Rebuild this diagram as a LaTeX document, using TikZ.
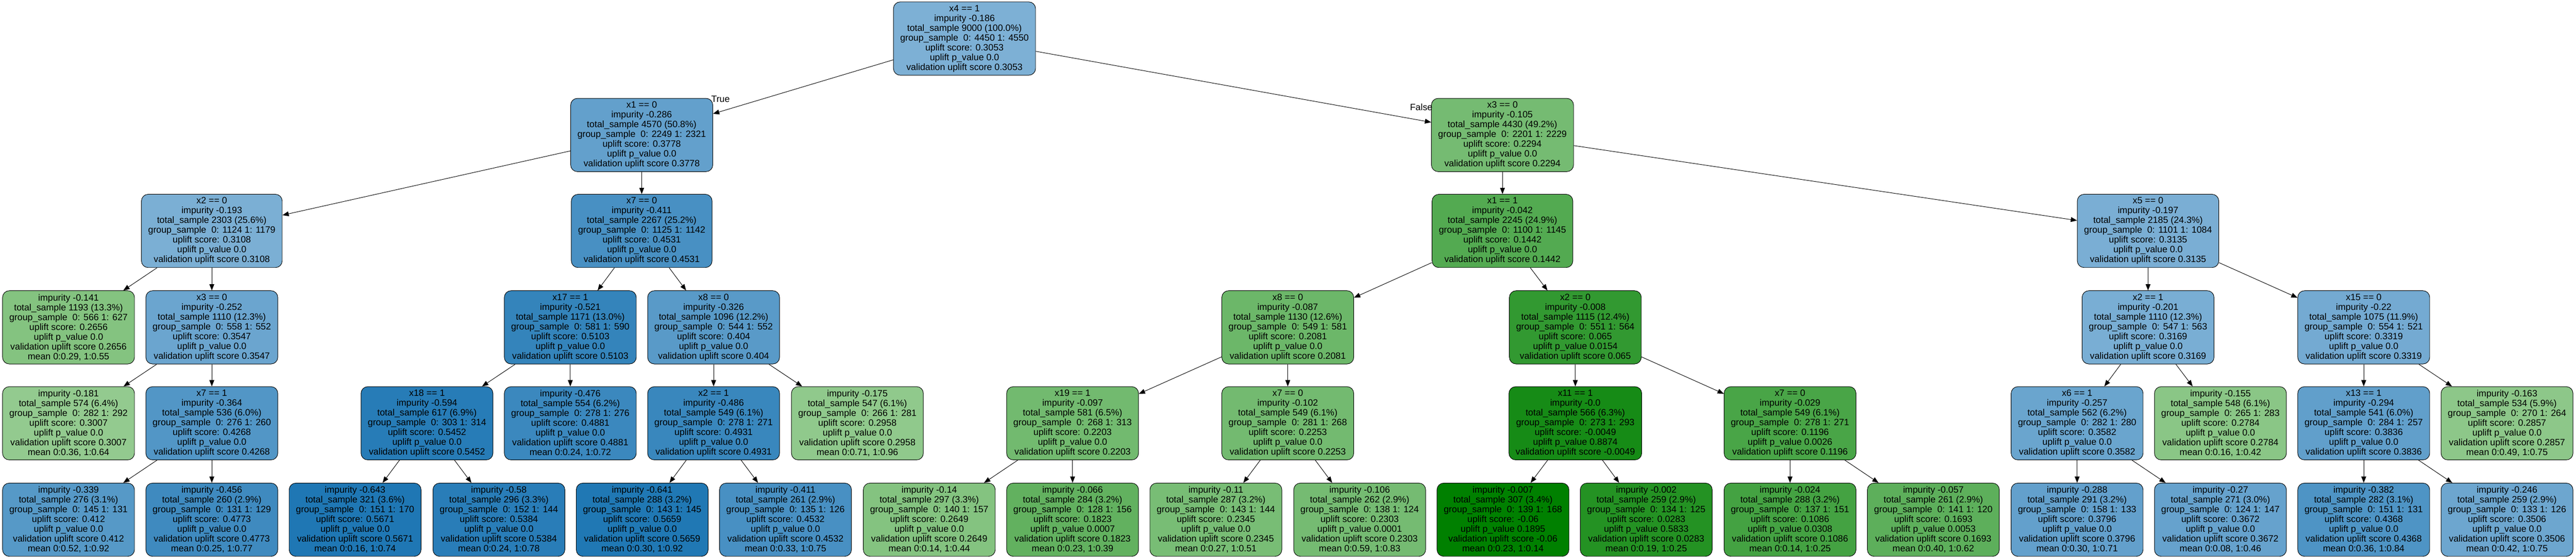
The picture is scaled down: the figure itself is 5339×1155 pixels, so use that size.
\documentclass[tikz,border=0pt]{standalone}
\usepackage{fontspec}
\setmainfont{Liberation Sans}
\usetikzlibrary{arrows.meta}
\definecolor{bhi}{RGB}{31,119,180}
\definecolor{blo}{RGB}{125,176,213}
\definecolor{ghi}{RGB}{0,128,0}
\definecolor{glo}{RGB}{148,203,144}
\begin{document}
\begin{tikzpicture}[x=0.5pt,y=-0.5pt,
  box/.style={draw=black,line width=0.5pt,rounded corners=7pt,align=center,minimum height=76pt,inner xsep=7pt,inner ysep=2pt,font=\fontsize{9.5pt}{10.15pt}\selectfont},
  arr/.style={-{Triangle[length=6.5pt,width=5pt]},line width=0.5pt},
  lbl/.style={inner sep=0pt,font=\fontsize{9.5pt}{10.15pt}\selectfont}]
\useasboundingbox (0,0) rectangle (5339,1155);
\node[box,fill=blo] (N0) at (1999,80) {x4 == 1\\impurity -0.186\\total\_sample 9000 (100.0\%)\\group\_sample~~0: 4450 1: 4550\\uplift score: 0.3053\\uplift p\_value 0.0\\validation uplift score 0.3053};
\node[box,fill=bhi!28!blo] (N1) at (1330,280) {x1 == 0\\impurity -0.286\\total\_sample 4570 (50.8\%)\\group\_sample~~0: 2249 1: 2321\\uplift score: 0.3778\\uplift p\_value 0.0\\validation uplift score 0.3778};
\node[box,fill=ghi!21!glo] (N2) at (3114,280) {x3 == 0\\impurity -0.105\\total\_sample 4430 (49.2\%)\\group\_sample~~0: 2201 1: 2229\\uplift score: 0.2294\\uplift p\_value 0.0\\validation uplift score 0.2294};
\node[box,fill=bhi!2!blo] (N3) at (439,479) {x2 == 0\\impurity -0.193\\total\_sample 2303 (25.6\%)\\group\_sample~~0: 1124 1: 1179\\uplift score: 0.3108\\uplift p\_value 0.0\\validation uplift score 0.3108};
\node[box,fill=bhi!56!blo] (N4) at (1330,479) {x7 == 0\\impurity -0.411\\total\_sample 2267 (25.2\%)\\group\_sample~~0: 1125 1: 1142\\uplift score: 0.4531\\uplift p\_value 0.0\\validation uplift score 0.4531};
\node[box,fill=ghi!44!glo] (N5) at (3114,479) {x1 == 1\\impurity -0.042\\total\_sample 2245 (24.9\%)\\group\_sample~~0: 1100 1: 1145\\uplift score: 0.1442\\uplift p\_value 0.0\\validation uplift score 0.1442};
\node[box,fill=bhi!3!blo] (N6) at (4452,479) {x5 == 0\\impurity -0.197\\total\_sample 2185 (24.3\%)\\group\_sample~~0: 1101 1: 1084\\uplift score: 0.3135\\uplift p\_value 0.0\\validation uplift score 0.3135};
\node[box,fill=ghi!11!glo] (N7) at (142,679) {impurity -0.141\\total\_sample 1193 (13.3\%)\\group\_sample~~0: 566 1: 627\\uplift score: 0.2656\\uplift p\_value 0.0\\validation uplift score 0.2656\\mean 0:0.29, 1:0.55};
\node[box,fill=bhi!19!blo] (N8) at (439,679) {x3 == 0\\impurity -0.252\\total\_sample 1110 (12.3\%)\\group\_sample~~0: 558 1: 552\\uplift score: 0.3547\\uplift p\_value 0.0\\validation uplift score 0.3547};
\node[box,fill=bhi!78!blo] (N9) at (1182,679) {x17 == 1\\impurity -0.521\\total\_sample 1171 (13.0\%)\\group\_sample~~0: 581 1: 590\\uplift score: 0.5103\\uplift p\_value 0.0\\validation uplift score 0.5103};
\node[box,fill=bhi!38!blo] (N10) at (1479,679) {x8 == 0\\impurity -0.326\\total\_sample 1096 (12.2\%)\\group\_sample~~0: 544 1: 552\\uplift score: 0.404\\uplift p\_value 0.0\\validation uplift score 0.404};
\node[box,fill=ghi!27!glo] (N11) at (2669,679) {x8 == 0\\impurity -0.087\\total\_sample 1130 (12.6\%)\\group\_sample~~0: 549 1: 581\\uplift score: 0.2081\\uplift p\_value 0.0\\validation uplift score 0.2081};
\node[box,fill=ghi!66!glo] (N12) at (3265,679) {x2 == 0\\impurity -0.008\\total\_sample 1115 (12.4\%)\\group\_sample~~0: 551 1: 564\\uplift score: 0.065\\uplift p\_value 0.0154\\validation uplift score 0.065};
\node[box,fill=bhi!4!blo] (N13) at (4452,679) {x2 == 1\\impurity -0.201\\total\_sample 1110 (12.3\%)\\group\_sample~~0: 547 1: 563\\uplift score: 0.3169\\uplift p\_value 0.0\\validation uplift score 0.3169};
\node[box,fill=bhi!10!blo] (N14) at (4899,679) {x15 == 0\\impurity -0.22\\total\_sample 1075 (11.9\%)\\group\_sample~~0: 554 1: 521\\uplift score: 0.3319\\uplift p\_value 0.0\\validation uplift score 0.3319};
\node[box,fill=ghi!1!glo] (N15) at (142,878) {impurity -0.181\\total\_sample 574 (6.4\%)\\group\_sample~~0: 282 1: 292\\uplift score: 0.3007\\uplift p\_value 0.0\\validation uplift score 0.3007\\mean 0:0.36, 1:0.64};
\node[box,fill=bhi!46!blo] (N16) at (439,878) {x7 == 1\\impurity -0.364\\total\_sample 536 (6.0\%)\\group\_sample~~0: 276 1: 260\\uplift score: 0.4268\\uplift p\_value 0.0\\validation uplift score 0.4268};
\node[box,fill=bhi!92!blo] (N17) at (885,878) {x18 == 1\\impurity -0.594\\total\_sample 617 (6.9\%)\\group\_sample~~0: 303 1: 314\\uplift score: 0.5452\\uplift p\_value 0.0\\validation uplift score 0.5452};
\node[box,fill=bhi!70!blo] (N18) at (1182,878) {impurity -0.476\\total\_sample 554 (6.2\%)\\group\_sample~~0: 278 1: 276\\uplift score: 0.4881\\uplift p\_value 0.0\\validation uplift score 0.4881\\mean 0:0.24, 1:0.72};
\node[box,fill=bhi!72!blo] (N19) at (1479,878) {x2 == 1\\impurity -0.486\\total\_sample 549 (6.1\%)\\group\_sample~~0: 278 1: 271\\uplift score: 0.4931\\uplift p\_value 0.0\\validation uplift score 0.4931};
\node[box,fill=ghi!3!glo] (N20) at (1777,878) {impurity -0.175\\total\_sample 547 (6.1\%)\\group\_sample~~0: 266 1: 281\\uplift score: 0.2958\\uplift p\_value 0.0\\validation uplift score 0.2958\\mean 0:0.71, 1:0.96};
\node[box,fill=ghi!23!glo] (N21) at (2223,878) {x19 == 1\\impurity -0.097\\total\_sample 581 (6.5\%)\\group\_sample~~0: 268 1: 313\\uplift score: 0.2203\\uplift p\_value 0.0\\validation uplift score 0.2203};
\node[box,fill=ghi!22!glo] (N22) at (2669,878) {x7 == 0\\impurity -0.102\\total\_sample 549 (6.1\%)\\group\_sample~~0: 281 1: 268\\uplift score: 0.2253\\uplift p\_value 0.0\\validation uplift score 0.2253};
\node[box,fill=ghi!85!glo] (N23) at (3265,878) {x11 == 1\\impurity -0.0\\total\_sample 566 (6.3\%)\\group\_sample~~0: 273 1: 293\\uplift score: -0.0049\\uplift p\_value 0.8874\\validation uplift score -0.0049};
\node[box,fill=ghi!51!glo] (N24) at (3710,878) {x7 == 0\\impurity -0.029\\total\_sample 549 (6.1\%)\\group\_sample~~0: 278 1: 271\\uplift score: 0.1196\\uplift p\_value 0.0026\\validation uplift score 0.1196};
\node[box,fill=bhi!20!blo] (N25) at (4305,878) {x6 == 1\\impurity -0.257\\total\_sample 562 (6.2\%)\\group\_sample~~0: 282 1: 280\\uplift score: 0.3582\\uplift p\_value 0.0\\validation uplift score 0.3582};
\node[box,fill=ghi!7!glo] (N26) at (4602,878) {impurity -0.155\\total\_sample 548 (6.1\%)\\group\_sample~~0: 265 1: 283\\uplift score: 0.2784\\uplift p\_value 0.0\\validation uplift score 0.2784\\mean 0:0.16, 1:0.42};
\node[box,fill=bhi!30!blo] (N27) at (4899,878) {x13 == 1\\impurity -0.294\\total\_sample 541 (6.0\%)\\group\_sample~~0: 284 1: 257\\uplift score: 0.3836\\uplift p\_value 0.0\\validation uplift score 0.3836};
\node[box,fill=ghi!5!glo] (N28) at (5196,878) {impurity -0.163\\total\_sample 534 (5.9\%)\\group\_sample~~0: 270 1: 264\\uplift score: 0.2857\\uplift p\_value 0.0\\validation uplift score 0.2857\\mean 0:0.49, 1:0.75};
\node[box,fill=bhi!41!blo] (N29) at (142,1078) {impurity -0.339\\total\_sample 276 (3.1\%)\\group\_sample~~0: 145 1: 131\\uplift score: 0.412\\uplift p\_value 0.0\\validation uplift score 0.412\\mean 0:0.52, 1:0.92};
\node[box,fill=bhi!66!blo] (N30) at (439,1078) {impurity -0.456\\total\_sample 260 (2.9\%)\\group\_sample~~0: 131 1: 129\\uplift score: 0.4773\\uplift p\_value 0.0\\validation uplift score 0.4773\\mean 0:0.25, 1:0.77};
\node[box,fill=bhi] (N31) at (736,1078) {impurity -0.643\\total\_sample 321 (3.6\%)\\group\_sample~~0: 151 1: 170\\uplift score: 0.5671\\uplift p\_value 0.0\\validation uplift score 0.5671\\mean 0:0.16, 1:0.74};
\node[box,fill=bhi!89!blo] (N32) at (1034,1078) {impurity -0.58\\total\_sample 296 (3.3\%)\\group\_sample~~0: 152 1: 144\\uplift score: 0.5384\\uplift p\_value 0.0\\validation uplift score 0.5384\\mean 0:0.24, 1:0.78};
\node[box,fill=bhi!99!blo] (N33) at (1331,1078) {impurity -0.641\\total\_sample 288 (3.2\%)\\group\_sample~~0: 143 1: 145\\uplift score: 0.5659\\uplift p\_value 0.0\\validation uplift score 0.5659\\mean 0:0.30, 1:0.92};
\node[box,fill=bhi!56!blo] (N34) at (1628,1078) {impurity -0.411\\total\_sample 261 (2.9\%)\\group\_sample~~0: 135 1: 126\\uplift score: 0.4532\\uplift p\_value 0.0\\validation uplift score 0.4532\\mean 0:0.33, 1:0.75};
\node[box,fill=ghi!11!glo] (N35) at (1926,1078) {impurity -0.14\\total\_sample 297 (3.3\%)\\group\_sample~~0: 140 1: 157\\uplift score: 0.2649\\uplift p\_value 0.0\\validation uplift score 0.2649\\mean 0:0.14, 1:0.44};
\node[box,fill=ghi!34!glo] (N36) at (2223,1078) {impurity -0.066\\total\_sample 284 (3.2\%)\\group\_sample~~0: 128 1: 156\\uplift score: 0.1823\\uplift p\_value 0.0007\\validation uplift score 0.1823\\mean 0:0.23, 1:0.39};
\node[box,fill=ghi!19!glo] (N37) at (2520,1078) {impurity -0.11\\total\_sample 287 (3.2\%)\\group\_sample~~0: 143 1: 144\\uplift score: 0.2345\\uplift p\_value 0.0\\validation uplift score 0.2345\\mean 0:0.27, 1:0.51};
\node[box,fill=ghi!21!glo] (N38) at (2818,1078) {impurity -0.106\\total\_sample 262 (2.9\%)\\group\_sample~~0: 138 1: 124\\uplift score: 0.2303\\uplift p\_value 0.0001\\validation uplift score 0.2303\\mean 0:0.59, 1:0.83};
\node[box,fill=ghi] (N39) at (3115,1078) {impurity -0.007\\total\_sample 307 (3.4\%)\\group\_sample~~0: 139 1: 168\\uplift score: -0.06\\uplift p\_value 0.1895\\validation uplift score -0.06\\mean 0:0.23, 1:0.14};
\node[box,fill=ghi!76!glo] (N40) at (3412,1078) {impurity -0.002\\total\_sample 259 (2.9\%)\\group\_sample~~0: 134 1: 125\\uplift score: 0.0283\\uplift p\_value 0.5833\\validation uplift score 0.0283\\mean 0:0.19, 1:0.25};
\node[box,fill=ghi!54!glo] (N41) at (3710,1078) {impurity -0.024\\total\_sample 288 (3.2\%)\\group\_sample~~0: 137 1: 151\\uplift score: 0.1086\\uplift p\_value 0.0308\\validation uplift score 0.1086\\mean 0:0.14, 1:0.25};
\node[box,fill=ghi!37!glo] (N42) at (4007,1078) {impurity -0.057\\total\_sample 261 (2.9\%)\\group\_sample~~0: 141 1: 120\\uplift score: 0.1693\\uplift p\_value 0.0053\\validation uplift score 0.1693\\mean 0:0.40, 1:0.62};
\node[box,fill=bhi!28!blo] (N43) at (4305,1078) {impurity -0.288\\total\_sample 291 (3.2\%)\\group\_sample~~0: 158 1: 133\\uplift score: 0.3796\\uplift p\_value 0.0\\validation uplift score 0.3796\\mean 0:0.30, 1:0.71};
\node[box,fill=bhi!24!blo] (N44) at (4602,1078) {impurity -0.27\\total\_sample 271 (3.0\%)\\group\_sample~~0: 124 1: 147\\uplift score: 0.3672\\uplift p\_value 0.0\\validation uplift score 0.3672\\mean 0:0.08, 1:0.46};
\node[box,fill=bhi!50!blo] (N45) at (4899,1078) {impurity -0.382\\total\_sample 282 (3.1\%)\\group\_sample~~0: 151 1: 131\\uplift score: 0.4368\\uplift p\_value 0.0\\validation uplift score 0.4368\\mean 0:0.36, 1:0.84};
\node[box,fill=bhi!17!blo] (N46) at (5196,1078) {impurity -0.246\\total\_sample 259 (2.9\%)\\group\_sample~~0: 133 1: 126\\uplift score: 0.3506\\uplift p\_value 0.0\\validation uplift score 0.3506\\mean 0:0.42, 1:0.75};
\node[lbl,anchor=base west] (T) at ([shift={(-4,8)}]N1.north east) {True};
\node[lbl,anchor=base east] (F) at ([shift={(3,26)}]N2.north west) {False};
\draw[arr] (N0) -- (N1);
\draw[arr] (N0) -- (N2);
\draw[arr] (N1) -- (N3);
\draw[arr] (N1) -- (N4);
\draw[arr] (N2) -- (N5);
\draw[arr] (N2) -- (N6);
\draw[arr] (N3) -- (N7);
\draw[arr] (N3) -- (N8);
\draw[arr] (N4) -- (N9);
\draw[arr] (N4) -- (N10);
\draw[arr] (N5) -- (N11);
\draw[arr] (N5) -- (N12);
\draw[arr] (N6) -- (N13);
\draw[arr] (N6) -- (N14);
\draw[arr] (N8) -- (N15);
\draw[arr] (N8) -- (N16);
\draw[arr] (N9) -- (N17);
\draw[arr] (N9) -- (N18);
\draw[arr] (N10) -- (N19);
\draw[arr] (N10) -- (N20);
\draw[arr] (N11) -- (N21);
\draw[arr] (N11) -- (N22);
\draw[arr] (N12) -- (N23);
\draw[arr] (N12) -- (N24);
\draw[arr] (N13) -- (N25);
\draw[arr] (N13) -- (N26);
\draw[arr] (N14) -- (N27);
\draw[arr] (N14) -- (N28);
\draw[arr] (N16) -- (N29);
\draw[arr] (N16) -- (N30);
\draw[arr] (N17) -- (N31);
\draw[arr] (N17) -- (N32);
\draw[arr] (N19) -- (N33);
\draw[arr] (N19) -- (N34);
\draw[arr] (N21) -- (N35);
\draw[arr] (N21) -- (N36);
\draw[arr] (N22) -- (N37);
\draw[arr] (N22) -- (N38);
\draw[arr] (N23) -- (N39);
\draw[arr] (N23) -- (N40);
\draw[arr] (N24) -- (N41);
\draw[arr] (N24) -- (N42);
\draw[arr] (N25) -- (N43);
\draw[arr] (N25) -- (N44);
\draw[arr] (N27) -- (N45);
\draw[arr] (N27) -- (N46);
\end{tikzpicture}
\end{document}
